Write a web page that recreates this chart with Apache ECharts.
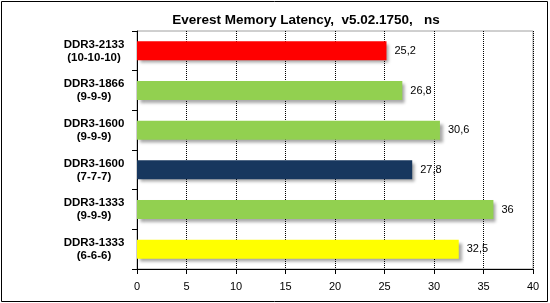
<!DOCTYPE html>
<html><head><meta charset="utf-8">
<script src="https://cdn.jsdelivr.net/npm/echarts@6/dist/echarts.min.js"></script>
<style>html,body{margin:0;padding:0;background:#fff}#c{width:550px;height:303px}</style>
</head><body><div id="c"></div>
<script>
var categories = ["DDR3-2133\n(10-10-10)", "DDR3-1866\n(9-9-9)", "DDR3-1600\n(9-9-9)", "DDR3-1600\n(7-7-7)", "DDR3-1333\n(9-9-9)", "DDR3-1333\n(6-6-6)"];
var values = [25.2, 26.8, 30.6, 27.8, 36, 32.5];
var colors = ["#ff0000", "#92d050", "#92d050", "#17375e", "#92d050", "#ffff00"];
var xTicks = [0, 5, 10, 15, 20, 25, 30, 35, 40];

var chart = echarts.init(document.getElementById('c'), null, {renderer: 'canvas'});
chart.setOption({
  animation: false,
  backgroundColor: '#fff',
  textStyle: {fontFamily: 'Liberation Sans, Arial, sans-serif'},
  title: {
    text: 'Everest Memory Latency,  v5.02.1750,   ns',
    left: 301, top: 8, textAlign: 'center',
    textStyle: {fontSize: 13.5, fontWeight: 'bold', color: '#000', fontFamily: 'Liberation Sans, Arial, sans-serif'}
  },
  graphic: [{
    type: 'rect', shape: {x: 1.5, y: 1.5, width: 546, height: 300},
    style: {fill: 'none', stroke: '#000', lineWidth: 1}, z: 100
  }],
  grid: {left: 137, right: 17, top: 31, bottom: 34, show: true, borderColor: '#a0a0a0', borderWidth: 1, backgroundColor: '#fff'},
  xAxis: {
    type: 'value', min: xTicks[0], max: xTicks[xTicks.length - 1], interval: 5,
    axisLine: {show: true, lineStyle: {color: '#000', width: 1}},
    axisTick: {show: true, length: 5, lineStyle: {color: '#000'}},
    axisLabel: {color: '#000', fontSize: 11, margin: 12, fontFamily: 'Liberation Sans, Arial, sans-serif'},
    splitLine: {show: true, lineStyle: {color: '#000', type: 'dotted', width: 1}}
  },
  yAxis: {
    type: 'category', data: categories, inverse: true,
    axisLine: {show: true, lineStyle: {color: '#000', width: 1}},
    axisTick: {show: true, length: 5, inside: false, lineStyle: {color: '#000'}},
    axisLabel: {color: '#000', fontSize: 11.5, fontWeight: 'bold', align: 'center', margin: 43, lineHeight: 13, fontFamily: 'Liberation Sans, Arial, sans-serif'},
    splitLine: {show: false}
  },
  series: [{
    type: 'bar',
    barWidth: 19,
    data: values.map(function (v, i) {
      return {value: v, itemStyle: {color: colors[i]}};
    }),
    itemStyle: {shadowColor: 'rgba(0,0,0,0.35)', shadowBlur: 3, shadowOffsetX: 3, shadowOffsetY: 3},
    label: {
      show: true, position: 'right', distance: 8, color: '#000', fontSize: 11,
      fontFamily: 'Liberation Sans, Arial, sans-serif',
      formatter: function (p) { return String(p.value).replace('.', ','); }
    }
  }]
});
</script></body></html>
